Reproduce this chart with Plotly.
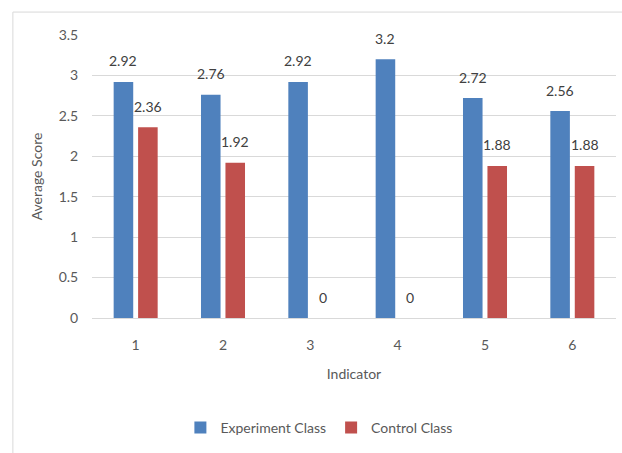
import plotly.graph_objects as go

# Average score per indicator for the two classes
indicators = ["1", "2", "3", "4", "5", "6"]
experiment_scores = [2.92, 2.76, 2.92, 3.2, 2.72, 2.56]
control_scores = [2.36, 1.92, 0, 0, 1.88, 1.88]
y_ticks = [0, 0.5, 1, 1.5, 2, 2.5, 3, 3.5]

BLUE = "#4F81BD"
RED = "#C0504D"
FONT = "Lato"
TEXT_GREY = "#595959"
LABEL_GREY = "#404040"
GRID = "#D9D9D9"

BARGAP = 0.44
GROUPGAP = 0.2
SLOT = (1 - BARGAP) / 2  # width of each series slot, in category units

fig = go.Figure()
fig.add_trace(go.Bar(name="Experiment Class", x=indicators, y=experiment_scores,
                     marker=dict(color=BLUE, line=dict(width=0))))
fig.add_trace(go.Bar(name="Control Class", x=indicators, y=control_scores,
                     marker=dict(color=RED, line=dict(width=0))))

# value labels floated above each bar
for offset, values in ((-SLOT / 2, experiment_scores), (SLOT / 2, control_scores)):
    for i, v in enumerate(values):
        fig.add_annotation(x=i + offset, y=v, text=f"{v:g}", showarrow=False,
                           xref="x", yref="y", yanchor="middle", yshift=21,
                           font=dict(family=FONT, size=14, color=LABEL_GREY))

fig.update_layout(
    width=622, height=453,
    margin=dict(l=92, r=6, t=35, b=135),
    paper_bgcolor="white", plot_bgcolor="white",
    font=dict(family=FONT, size=14, color=TEXT_GREY),
    barmode="group", bargap=BARGAP, bargroupgap=GROUPGAP,
    showlegend=True,
    legend=dict(orientation="h", x=0.433, xanchor="center", y=-0.388, yanchor="middle",
                font=dict(family=FONT, size=14, color=TEXT_GREY),
                itemwidth=30, tracegroupgap=0, bgcolor="rgba(0,0,0,0)"),
)

fig.update_xaxes(
    type="category", showgrid=False, showline=False, zeroline=False,
    ticks="outside", ticklen=14, tickcolor="rgba(0,0,0,0)",
    tickfont=dict(family=FONT, size=14, color=TEXT_GREY),
    title=dict(text="Indicator", standoff=17, font=dict(family=FONT, size=14, color=TEXT_GREY)),
)
fig.update_yaxes(
    range=[0, 3.5], tickvals=y_ticks, ticktext=[f"{v:g}" for v in y_ticks],
    showgrid=True, gridcolor=GRID, gridwidth=1.3,
    zeroline=True, zerolinecolor=GRID, zerolinewidth=1.3, showline=False,
    ticks="outside", ticklen=10, tickcolor="rgba(0,0,0,0)",
    tickfont=dict(family=FONT, size=14, color=TEXT_GREY),
    title=dict(text="Average Score", standoff=12, font=dict(family=FONT, size=14, color=TEXT_GREY)),
)

# outer chart frame
fig.add_shape(type="rect", xref="paper", yref="paper",
              x0=-0.151, x1=1.2, y0=-0.6, y1=1.081,
              line=dict(color=GRID, width=1), fillcolor="rgba(0,0,0,0)", layer="below")

fig.write_html("out.html")
